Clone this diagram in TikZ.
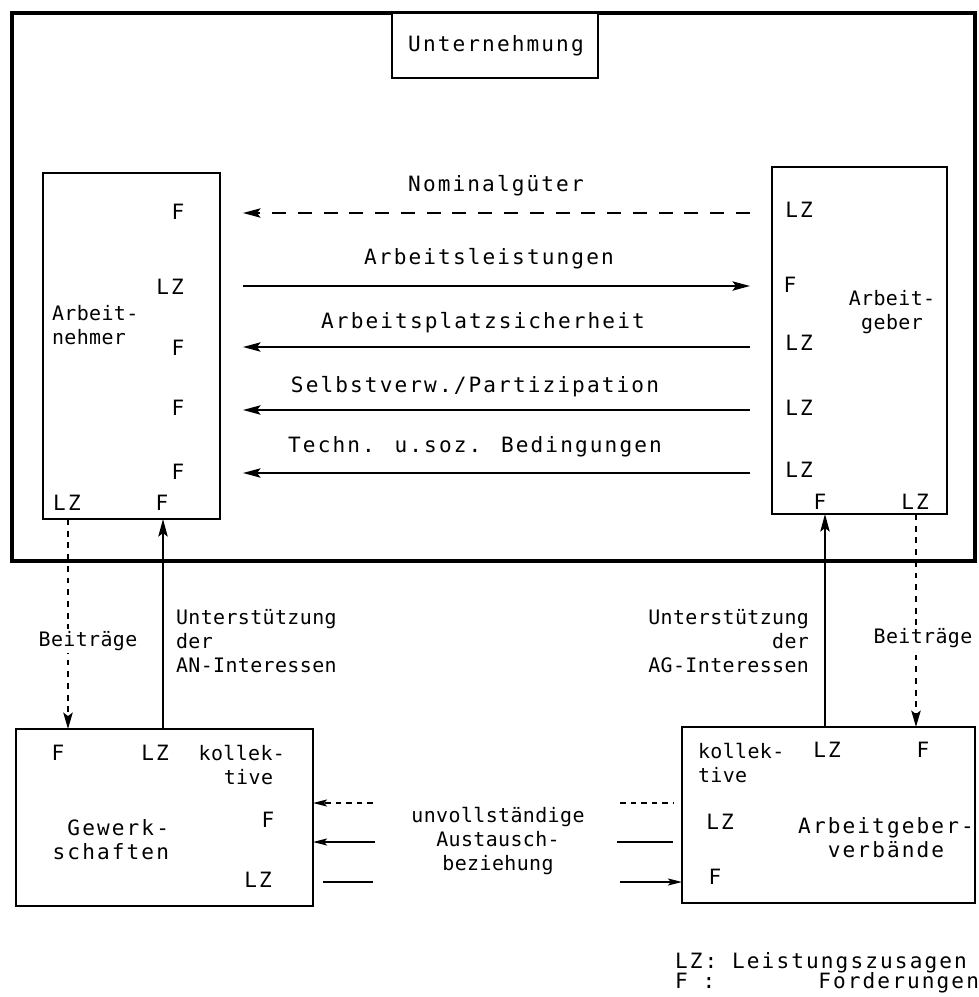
\documentclass[tikz,border=0pt]{standalone}
\usepackage{fontspec}
\setmainfont{DejaVu Sans Mono}[LetterSpace=10]
\newfontfamily\narrowfam{DejaVu Sans Mono}[LetterSpace=2]
\usetikzlibrary{fit,arrows.meta}
\begin{document}
\begin{tikzpicture}[x=0.03cm,y=-0.03cm,
  font=\fontsize{18}{20.5}\selectfont,
  every node/.style={inner sep=0pt, outer sep=0pt},
  small/.style={font=\narrowfam\fontsize{17}{20.5}\selectfont},
  thinbox/.style={draw, line width=1pt},
  thickbox/.style={draw, line width=2.4pt},
  arr/.style={line width=1.4pt, -{Stealth[length=15pt,width=8pt,inset=3pt]}},
  smallarr/.style={line width=1.4pt, -{Stealth[length=12pt,width=6pt,inset=2.5pt]}},
  dasharr/.style={arr, dash pattern=on 12pt off 10pt},
  shortdash/.style={line width=1.4pt, dash pattern=on 5pt off 4pt},
  dotarr/.style={line width=2pt, dash pattern=on 5pt off 5pt, -{Stealth[length=14pt,width=8pt,inset=3pt]}},
  lbl/.style={fill=white, inner sep=2pt}
]
\useasboundingbox (0,0) rectangle (979,997);

% boxes
\node[fit={(12,13)(975,561)}, draw, line width=3.4pt] (firm) {};
\node[fit={(392,13)(598,78)}, draw, line width=2.4pt, fill=white] (un) {};
\node (untxt) at (496,46) {Unternehmung};
\node[fit={(43,173)(220,519)}, thinbox] (an) {};
\node[fit={(772,167)(947,514)}, thinbox] (ag) {};
\node[fit={(16,729)(313,906)}, thickbox] (gw) {};
\node[fit={(682,727)(975,903)}, thickbox] (agv) {};

% Arbeitnehmer labels
\node (anF1) at (178,212) {F};
\node (anLZ1) at (170,287) {LZ};
\node[small, anchor=west, align=left] (antxt) at (52,325) {Arbeit-\\nehmer};
\node (anF2) at (178,348) {F};
\node (anF3) at (178,408) {F};
\node (anF4) at (178,472) {F};
\node (anLZ2) at (67,503) {LZ};
\node (anF5) at (162,503) {F};

% Arbeitgeber labels
\node (agLZ1) at (799,210) {LZ};
\node (agF1) at (790,285) {F};
\node[small, align=center] (agtxt) at (892,312) {Arbeit-\\geber};
\node (agLZ2) at (799,343) {LZ};
\node (agLZ3) at (799,408) {LZ};
\node (agLZ4) at (799,470) {LZ};
\node (agF2) at (820,502) {F};
\node (agLZ5) at (915,502) {LZ};

% horizontal exchanges
\coordinate (hl1) at (243,213); \coordinate (hr1) at (750,213);
\coordinate (hl2) at (243,286); \coordinate (hr2) at (750,286);
\coordinate (hl3) at (243,347); \coordinate (hr3) at (750,347);
\coordinate (hl4) at (243,410); \coordinate (hr4) at (750,410);
\coordinate (hl5) at (243,473); \coordinate (hr5) at (750,473);
\draw[dasharr] (hr1) -- (hl1);
\draw[arr] (hl2) -- (hr2);
\draw[arr] (hr3) -- (hl3);
\draw[arr] (hr4) -- (hl4);
\draw[arr] (hr5) -- (hl5);
\node (t1) at (496,186) {Nominalgüter};
\node (t2) at (489,259) {Arbeitsleistungen};
\node (t3) at (483,323) {Arbeitsplatzsicherheit};
\node (t4) at (475,387) {Selbstverw./Partizipation};
\node (t5) at (475,447) {Techn. u.soz. Bedingungen};

% vertical connections
\coordinate (vx1) at (68,0);
\coordinate (vx2) at (163,0);
\coordinate (vx3) at (825,0);
\coordinate (vx4) at (916,0);
\draw[dotarr] (an.south -| vx1) -- (gw.north -| vx1);
\draw[arr] (gw.north -| vx2) -- (an.south -| vx2);
\draw[arr] (agv.north -| vx3) -- (ag.south -| vx3);
\draw[dotarr] (ag.south -| vx4) -- (agv.north -| vx4);
\node[small, lbl] (b1) at (88,641) {Beiträge};
\node[small, lbl] (b2) at (923,638) {Beiträge};
\node[small, anchor=west, align=left] (u1) at (176,641) {Unterstützung\\der\\AN-Interessen};
\node[small, anchor=east, align=right] (u2) at (809,641) {Unterstützung\\der\\AG-Interessen};

% Gewerkschaften labels
\node (gwF1) at (58,753) {F};
\node (gwLZ1) at (155,753) {LZ};
\node[small, align=right, anchor=east] (gwk) at (285,765) {kollek-\\tive\phantom{-}};
\node (gwF2) at (268,820) {F};
\node[align=right, anchor=east] (gwtxt) at (169,840) {Gewerk-\\schaften};
\node (gwLZ2) at (258,880) {LZ};

% Arbeitgeberverbaende labels
\node[small, align=left, anchor=west] (agvk) at (698,763) {kollek-\\tive};
\node (agvLZ1) at (827,750) {LZ};
\node (agvF1) at (923,750) {F};
\node (agvLZ2) at (720,822) {LZ};
\node[align=center] (agvtxt) at (886,838) {Arbeitgeber-\\verbände};
\node (agvF2) at (715,877) {F};

% incomplete exchange
\coordinate (gl1) at (373,803); \coordinate (gl2) at (375,842); \coordinate (gl3) at (373,882);
\coordinate (gr1) at (620,803); \coordinate (gr2) at (617,842); \coordinate (gr3) at (620,882);
\draw[shortdash, -{Stealth[length=12pt,width=6pt,inset=2.5pt]}] (gl1) -- (gw.east |- gl1);
\draw[smallarr] (gl2) -- (gw.east |- gl2);
\draw[line width=1.4pt] ([xshift=0.3cm]gw.east |- gl3) -- (gl3);
\draw[shortdash] (gr1) -- ([xshift=-0.27cm]agv.west |- gr1);
\draw[line width=1.4pt] (gr2) -- ([xshift=-0.27cm]agv.west |- gr2);
\draw[smallarr] (gr3) -- (agv.west |- gr3);
\node[small, align=center] (ux) at (498,841) {unvollständige\\Austausch-\\beziehung};

% legend
\node[anchor=base west] (leg1) at (675,968) {LZ: Leistungszusagen};
\node[anchor=base west] (leg2) at (675,988) {F :};
\node[anchor=base east] (leg3) at (979,988) {Forderungen};
\end{tikzpicture}
\end{document}
